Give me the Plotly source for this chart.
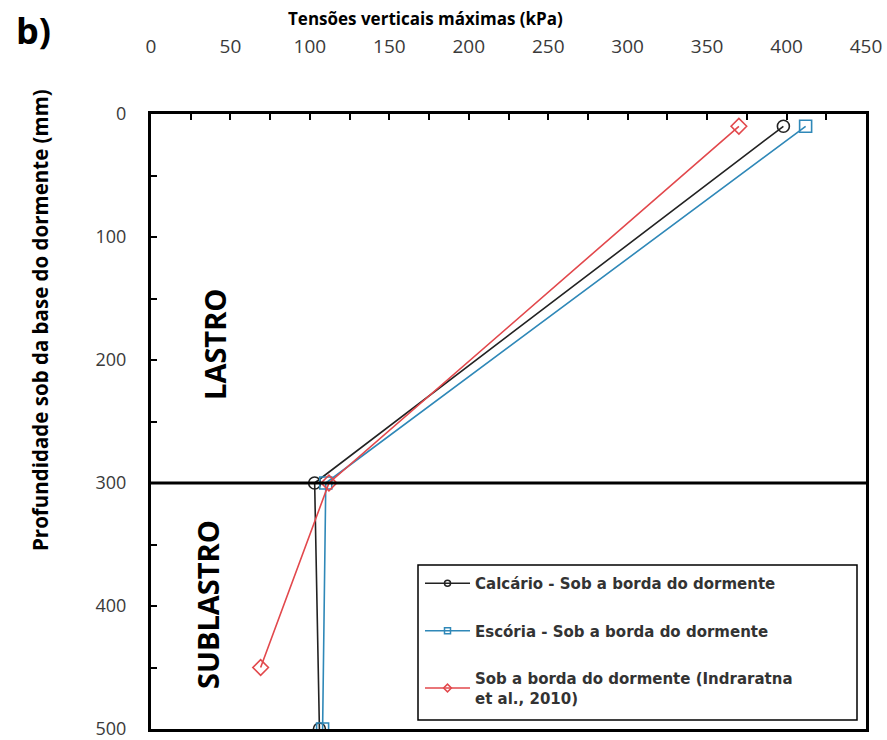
import plotly.graph_objects as go

# Data
calcario_x = [398, 103, 106]
calcario_y = [10, 300, 500]
escoria_x = [412, 110, 108]
escoria_y = [10, 300, 500]
indraratna_x = [370, 112, 69]
indraratna_y = [10, 300, 450]

names = [
    "Calcário - Sob a borda do dormente",
    "Escória - Sob a borda do dormente",
    "Sob a borda do dormente (Indraratna<br>et al., 2010)",
]
colors = ["#222222", "#2f88b8", "#e2484c"]
symbols = ["circle-open", "square-open", "diamond-open"]
series = [(calcario_x, calcario_y), (escoria_x, escoria_y), (indraratna_x, indraratna_y)]

FONT = "Open Sans"
W, H = 887, 740
L, R, T, B = 151, 21, 114, 11

fig = go.Figure()
for i, (xs, ys) in enumerate(series):
    fig.add_trace(go.Scatter(
        x=xs, y=ys, mode="lines+markers", name=names[i], showlegend=False,
        line=dict(color=colors[i], width=1.6),
        marker=dict(symbol=symbols[i], size=12, color=colors[i], line=dict(width=1.6)),
    ))
# legend entries (small markers as in the reference)
for i in range(3):
    fig.add_trace(go.Scatter(
        x=[None], y=[None], mode="lines+markers", name=names[i],
        legendgroup=f"g{i}",
        line=dict(color=colors[i], width=1.6),
        marker=dict(symbol=symbols[i], size=6, color=colors[i], line=dict(width=1.5)),
    ))

pw = W - L - R
ph = H - T - B

def px(xp):
    return (xp - L) / pw

def py(yp):
    return (H - B - yp) / ph

# Boundary between ballast and sub-ballast
fig.add_shape(type="line", xref="paper", yref="y", x0=0, x1=1, y0=300, y1=300,
              line=dict(color="black", width=3))
# Legend frame
fig.add_shape(type="rect", xref="paper", yref="paper",
              x0=px(418), x1=px(857), y0=py(720), y1=py(565),
              line=dict(color="black", width=1.5), fillcolor="white", layer="below")

def ann(text, x, y, size, angle=0, weight="bold", color="black"):
    fig.add_annotation(text=text, xref="paper", yref="paper", x=px(x), y=py(y),
                       xanchor="center", yanchor="middle", showarrow=False,
                       textangle=angle,
                       font=dict(family=FONT, size=size, color=color, weight=weight))

ann("LASTRO", 214, 345, 29, -90)
ann("SUBLASTRO", 207, 605, 29, -90)
ann("Tensões verticais máximas (kPa)", 425, 18, 17)
ann("Profundidade sob da base do dormente (mm)", 40, 320, 20.5, -90)
ann("b)", 33, 30, 36)

fig.update_xaxes(
    side="top", range=[0, 450], dtick=50, tick0=0,
    ticks="inside", ticklen=6, tickwidth=2, tickcolor="black",
    minor=dict(dtick=25, ticks="inside", ticklen=6, tickwidth=2, tickcolor="black"),
    showline=True, linecolor="black", linewidth=3, mirror=True,
    showgrid=False, zeroline=False, ticklabelstandoff=50,
    ticklabeloverflow="allow",
    tickfont=dict(family=FONT, size=19, color="#3a3a3a"),
)
fig.update_yaxes(
    range=[500, 0], dtick=100, tick0=0,
    ticks="inside", ticklen=6, tickwidth=2, tickcolor="black",
    minor=dict(dtick=50, ticks="inside", ticklen=6, tickwidth=2, tickcolor="black"),
    showline=True, linecolor="black", linewidth=3, mirror=True,
    showgrid=False, zeroline=False, ticklabelstandoff=18,
    ticklabeloverflow="allow",
    tickfont=dict(family=FONT, size=18, color="#3a3a3a"),
)

fig.update_layout(
    width=W, height=H,
    margin=dict(l=L, r=R, t=T, b=B, autoexpand=False),
    paper_bgcolor="white", plot_bgcolor="white",
    font=dict(family=FONT, color="#333333"),
    legend=dict(
        x=px(420), y=py(567), xanchor="left", yanchor="top",
        bgcolor="rgba(0,0,0,0)", borderwidth=0,
        font=dict(family="DejaVu Sans", size=15, color="#333333", weight="bold"),
        tracegroupgap=25, itemwidth=45,
    ),
)

fig.write_html("out.html")
